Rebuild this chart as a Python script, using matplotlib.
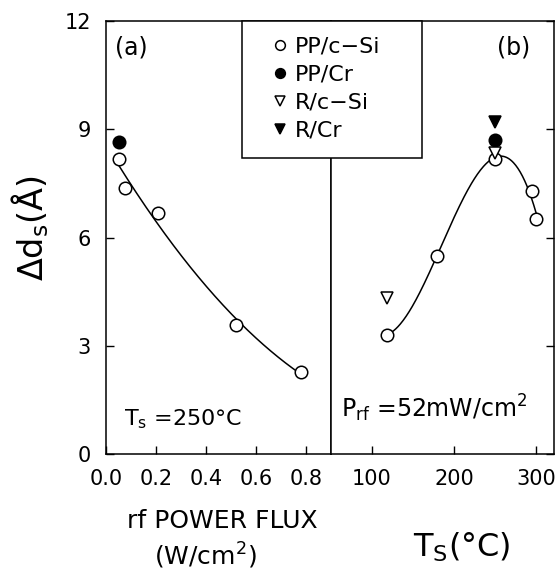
import numpy as np
import matplotlib
matplotlib.use("Agg")
import matplotlib.pyplot as plt
from matplotlib.lines import Line2D
from matplotlib.patches import Rectangle

plt.rcParams['font.family'] = ['DejaVu Sans']
plt.rcParams['mathtext.default'] = 'regular'

# panel (a): rf power flux, Ts = 250 C
flux_open = [0.05, 0.076, 0.208, 0.52, 0.78]
ds_flux_open = [8.17, 7.37, 6.68, 3.57, 2.27]
flux_cr = [0.05]
ds_flux_cr = [8.65]

# panel (b): substrate temperature, Prf = 52 mW/cm2
ts_open = [118, 179, 250, 295, 300]
ds_ts_open = [3.3, 5.5, 8.17, 7.29, 6.5]
ts_pp_cr = [250]
ds_ts_pp_cr = [8.7]
ts_r_si = [118, 250]
ds_ts_r_si = [4.32, 8.35]
ts_r_cr = [250]
ds_ts_r_cr = [9.2]

legend_labels = ['PP/c\u2212Si', 'PP/Cr', 'R/c\u2212Si', 'R/Cr']

W, H = 558, 573
fig = plt.figure(figsize=(W / 100, H / 100), dpi=100)

def box(x0, x1, y0, y1):
    return [x0 / W, 1 - y1 / H, (x1 - x0) / W, (y1 - y0) / H]

def ftext(x, y, s, **kw):
    # place text at pixel position (from top-left)
    return fig.text(x / W, 1 - y / H, s, **kw)

ax1 = fig.add_axes(box(106, 331, 21, 454))
ax2 = fig.add_axes(box(331, 554, 21, 454))

mk = dict(linestyle='none', markersize=9, markeredgewidth=1.1, color='black')

# (a)
c = np.polyfit(flux_open, ds_flux_open, 2)
xx = np.linspace(flux_open[0], flux_open[-1], 200)
ax1.plot(xx, np.polyval(c, xx), color='black', lw=1.1)
ax1.plot(flux_open, ds_flux_open, marker='o', markerfacecolor='white', **mk)
ax1.plot(flux_cr, ds_flux_cr, marker='o', markerfacecolor='black', **mk)
ax1.set_xlim(0, 0.9)
ax1.set_ylim(0, 12)
ax1.set_xticks([0.0, 0.2, 0.4, 0.6, 0.8])
ax1.set_xticklabels(['0.0', '0.2', '0.4', '0.6', '0.8'])
ax1.set_yticks([0, 3, 6, 9, 12])
ax1.tick_params(direction='in', length=6, width=1, labelsize=15, pad=11)

# (b)
c2 = np.polyfit(ts_open, ds_ts_open, 3)
tt = np.linspace(ts_open[0], ts_open[-1], 200)
ax2.plot(tt, np.polyval(c2, tt), color='black', lw=1.1)
ax2.plot(ts_open, ds_ts_open, marker='o', markerfacecolor='white', **mk)
ax2.plot(ts_pp_cr, ds_ts_pp_cr, marker='o', markerfacecolor='black', **mk)
ax2.plot(ts_r_si, ds_ts_r_si, marker='v', markerfacecolor='white', **mk)
ax2.plot(ts_r_cr, ds_ts_r_cr, marker='v', markerfacecolor='black', **mk)
ax2.set_xlim(50, 322)
ax2.set_ylim(0, 12)
ax2.set_xticks([100, 200, 300])
ax2.set_yticks([0, 3, 6, 9, 12])
ax2.yaxis.tick_right()
ax2.tick_params(direction='in', length=6, width=1, labelsize=15, pad=11,
                labelright=False)

for ax in (ax1, ax2):
    for s in ax.spines.values():
        s.set_linewidth(1.1)

# panel annotations
ftext(115, 55, '(a)', fontsize=17, va='baseline')
ftext(497, 55, '(b)', fontsize=17, va='baseline')
ftext(124, 425, 'T$_s$ =250°C', fontsize=16, va='baseline')
ftext(341, 417, 'P$_{rf}$ =52mW/cm$^2$', fontsize=17, va='baseline')

# legend with a hand-sized frame
frame = Rectangle((242 / W, 1 - 158 / H), 180 / W, 137 / H,
                  transform=fig.transFigure, facecolor='white',
                  edgecolor='black', lw=1.1, zorder=5)
fig.add_artist(frame)
hmk = dict(linestyle='none', markersize=7, markeredgewidth=1.1, color='black')
handles = [
    Line2D([], [], marker='o', markerfacecolor='white', **hmk),
    Line2D([], [], marker='o', markerfacecolor='black', **hmk),
    Line2D([], [], marker='v', markerfacecolor='white', **hmk),
    Line2D([], [], marker='v', markerfacecolor='black', **hmk),
]
leg = fig.legend(handles, legend_labels, loc='upper left',
                 bbox_to_anchor=(268 / W, 1 - 37 / H), fontsize=16,
                 frameon=False, borderaxespad=0, borderpad=0,
                 handlelength=1.1, handletextpad=0.1, labelspacing=0.36)
leg.set_zorder(6)

# axis labels
ftext(30, 228, '\u0394d$_s$(Å)', rotation=90, fontsize=24,
      ha='center', va='center')
ftext(222, 528, 'rf POWER FLUX', fontsize=18, ha='center', va='baseline')
ftext(205, 565, '(W/cm$^2$)', fontsize=18, ha='center', va='baseline')
ftext(462, 557, 'T$_S$(°C)', fontsize=23, ha='center', va='baseline')

fig.savefig('out.png', dpi=100)
